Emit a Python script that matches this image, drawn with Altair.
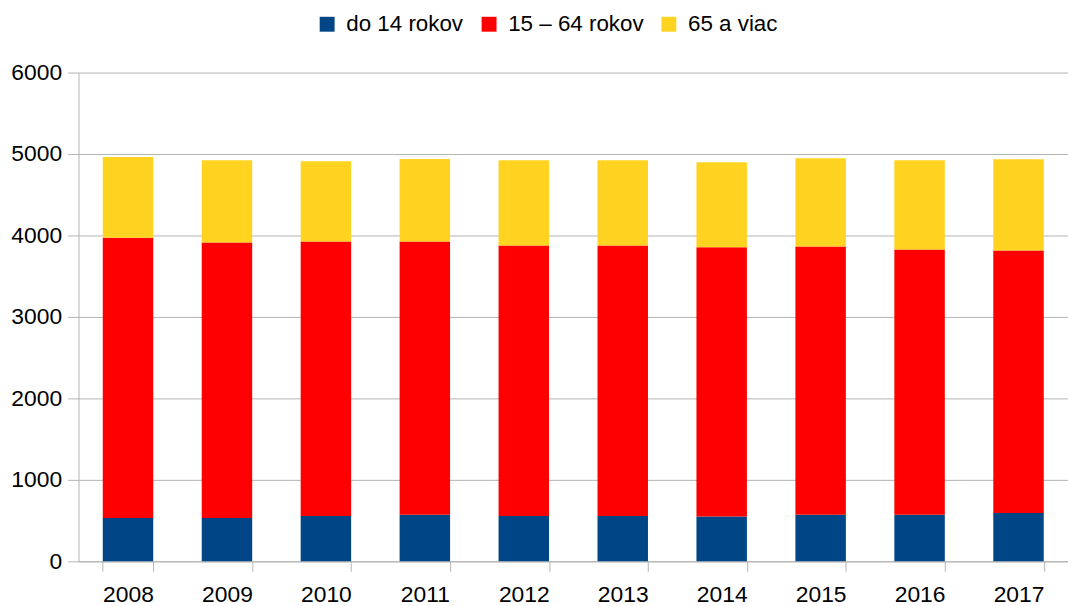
import altair as alt
import pandas as pd

years = ["2008", "2009", "2010", "2011", "2012", "2013", "2014", "2015", "2016", "2017"]
series = ["do 14 rokov", "15 – 64 rokov", "65 a viac"]
do14 = [533, 533, 557, 573, 557, 557, 549, 573, 573, 594]
mid = [3439, 3382, 3370, 3354, 3321, 3321, 3305, 3293, 3256, 3223]
old = [992, 1008, 984, 1012, 1045, 1045, 1045, 1082, 1094, 1118]
colors = ["#004586", "#ff0000", "#ffd320"]

rows = []
for i, y in enumerate(years):
    for k, vals in enumerate([do14, mid, old]):
        rows.append({"rok": y, "skupina": series[k], "hodnota": vals[i], "poradie": k})
df = pd.DataFrame(rows)

FONT = "Liberation Sans"
GRAY = "#b3b3b3"

chart = alt.Chart(df).mark_bar().encode(
    x=alt.X("rok:N", sort=years,
            scale=alt.Scale(paddingInner=0.49, paddingOuter=0.245),
            axis=alt.Axis(title=None, labelAngle=0, tickBand="extent", tickSize=10,
                          labelPadding=12, labelFontSize=23, labelFont=FONT,
                          labelColor="black", domainColor=GRAY, tickColor=GRAY,
                          grid=False)),
    y=alt.Y("hodnota:Q", stack="zero",
            scale=alt.Scale(domain=[0, 6000], nice=False),
            axis=alt.Axis(title=None, values=[0, 1000, 2000, 3000, 4000, 5000, 6000],
                          format="d",
                          tickSize=11, labelPadding=6, labelFontSize=23, labelFont=FONT,
                          labelColor="black", domainColor=GRAY, tickColor=GRAY,
                          gridColor=GRAY, grid=True)),
    color=alt.Color("skupina:N", sort=series,
                    scale=alt.Scale(domain=series, range=colors),
                    legend=alt.Legend(title=None, orient="none", direction="horizontal",
                                      legendX=239, legendY=-60, symbolType="square",
                                      symbolSize=225, symbolStrokeWidth=0,
                                      labelFontSize=22.5, labelFont=FONT, labelColor="black",
                                      labelOffset=8, columnPadding=14)),
    order=alt.Order("poradie:Q", sort="ascending"),
).properties(
    width=996, height=492,
    autosize=alt.AutoSizeParams(type="none"),
    padding={"left": 71, "top": 63, "right": 0, "bottom": 43},
).configure_view(stroke="transparent")

chart.save("out.html", embed_options={"renderer": "svg", "actions": False})
